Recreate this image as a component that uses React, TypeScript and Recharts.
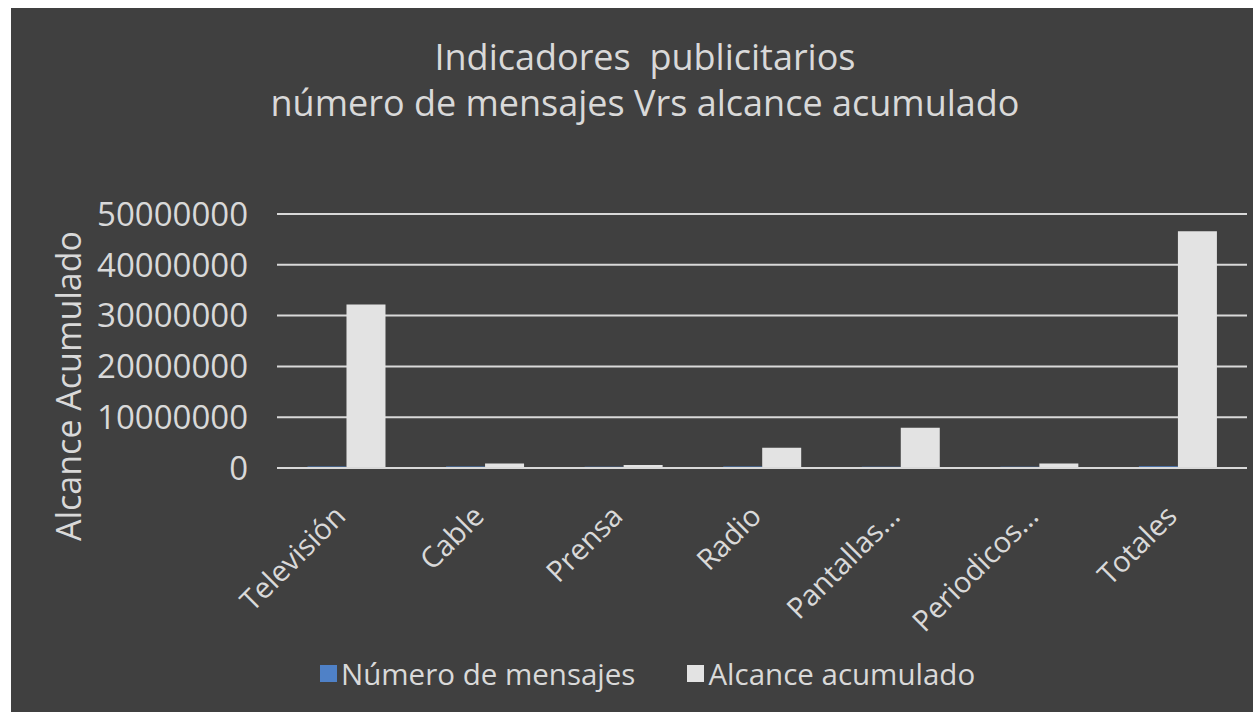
import { Bar, BarChart, CartesianGrid, Legend, XAxis, YAxis } from "recharts"

const categories = ["Televisión", "Cable", "Prensa", "Radio", "Pantallas...", "Periodicos...", "Totales"]
const numeroMensajes = [300000, 280000, 250000, 300000, 270000, 260000, 320000]
const alcanceAcumulado = [32200000, 900000, 600000, 4000000, 7900000, 900000, 46600000]
const yTicks = [0, 10000000, 20000000, 30000000, 40000000, 50000000]

const TEXT = "#d9d9d9"
const FONT = "'Open Sans', sans-serif"
const BLUE = "#4f81c7"
const WHITE = "#e3e3e3"

const data = categories.map((name, i) => ({
    name,
    mensajes: numeroMensajes[i],
    alcance: alcanceAcumulado[i],
}))

function XTick({x, y, payload} : any) {
    return (
        <g transform={`translate(${x + 1},${y + 50})`}>
            <text textAnchor="end" transform="rotate(-45)" fill={TEXT} fontSize={29} fontFamily={FONT}>
                {payload.value}
            </text>
        </g>
    )
}

function YLabel({viewBox} : any) {
    const cx = viewBox.x + 57
    const cy = viewBox.y + viewBox.height / 2 + 45
    return (
        <text x={cx} y={cy} transform={`rotate(-90,${cx},${cy})`} textAnchor="middle" dominantBaseline="central"
            fill={TEXT} fontSize={34} fontFamily={FONT}>
            Alcance Acumulado
        </text>
    )
}

function LegendContent() {
    const items = [
        {label: "Número de mensajes", color: BLUE},
        {label: "Alcance acumulado", color: WHITE},
    ]
    return (
        <div style={{display: 'flex', alignItems: 'center', gap: 52, fontFamily: FONT, fontSize: 29.5, color: TEXT, whiteSpace: 'nowrap'}}>
            {items.map(item =>
                <div key={item.label} style={{display: 'flex', alignItems: 'center', gap: 4}}>
                    <span style={{display: 'inline-block', width: 17, height: 17, background: item.color}}></span>
                    <span>{item.label}</span>
                </div>
            )}
        </div>
    )
}

export default function App() {
    return (
        <div style={{position: 'relative', width: 1242, height: 704, background: '#404040'}}>
            <style>{`body{margin:8px 0 0 11px;overflow:hidden}`}</style>
            <div style={{position: 'absolute', top: 26, left: 0, width: 1268, textAlign: 'center', color: TEXT, fontFamily: FONT, fontSize: 36, lineHeight: '46px'}}>
                <div>Indicadores&nbsp; publicitarios</div>
                <div>número de mensajes Vrs alcance acumulado</div>
            </div>
            <BarChart width={1242} height={704} data={data} margin={{top: 206, right: 6, left: 0, bottom: 0}}
                barCategoryGap="22%" barGap={0}>
                <CartesianGrid vertical={false} stroke={TEXT} strokeWidth={2} />
                <XAxis dataKey="name" height={244} tick={<XTick />} tickLine={false} tickSize={0} tickMargin={0}
                    axisLine={{stroke: TEXT, strokeWidth: 2}} interval={0} />
                <YAxis width={266} domain={[0, 50000000]} ticks={yTicks} tickLine={false} tickSize={0} tickMargin={29}
                    axisLine={false} tick={{fill: TEXT, fontSize: 33, fontFamily: FONT}} label={<YLabel />} />
                <Legend content={<LegendContent />} wrapperStyle={{top: 645, left: 309, width: 'auto', height: 0}} />
                <Bar dataKey="mensajes" name="Número de mensajes" fill={BLUE} isAnimationActive={false} />
                <Bar dataKey="alcance" name="Alcance acumulado" fill={WHITE} isAnimationActive={false} />
            </BarChart>
        </div>
    )
}
